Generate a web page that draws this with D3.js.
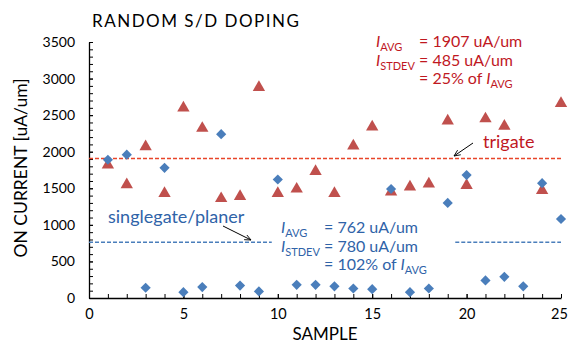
<!DOCTYPE html>
<html>
<head>
<meta charset="utf-8">
<script src="https://cdn.jsdelivr.net/npm/d3@7"></script>
<style>
  body { margin: 0; background: #fff; }
  svg text { font-family: Lato, "Noto Sans", sans-serif; }
</style>
</head>
<body>
<div id="vis-container"></div>
<script>
// sample index 1..25
let samples = d3.range(1, 26);

// trigate on-current (triangles), sample 23 has no visible point
let trigateSamples = [1, 2, 3, 4, 5, 6, 7, 8, 9, 10, 11, 12, 13, 14, 15, 16, 17, 18, 19, 20, 21, 22, 24, 25];
let trigateValues = [1820, 1550, 2070, 1430, 2600, 2320, 1360, 1390, 2880, 1430, 1490, 1730,
                     1430, 2080, 2340, 1450, 1520, 1560, 2420, 1540, 2450, 2350, 1470, 2660];

// singlegate / planer on-current (diamonds)
let planerValues = [1890, 1960, 140, 1780, 80, 150, 2240, 170, 90, 1620, 180, 180, 160,
                    130, 120, 1490, 80, 130, 1300, 1680, 240, 290, 160, 1570, 1080];

let trigateAvg = 1907;
let planerAvg = 762;

let xTicks = [0, 5, 10, 15, 20, 25];
let yTicks = [0, 500, 1000, 1500, 2000, 2500, 3000, 3500];

let width = 568;
let height = 345;
let margin = { left: 89, right: 7, top: 42, bottom: 47 };

let red = "#c0504d";
let redText = "#c0181f";
let redLine = "#e8452a";
let blue = "#4a7ebb";
let blueText = "#2f63a8";

let svg = d3.select("#vis-container")
  .append("svg")
  .attr("width", width)
  .attr("height", height);

let x = d3.scaleLinear()
  .domain([0, 25])
  .range([margin.left, width - margin.right]);

let y = d3.scaleLinear()
  .domain([0, 3500])
  .range([height - margin.bottom, margin.top]);

// minor ticks
svg.append("g")
  .attr("transform", `translate(${margin.left},0)`)
  .call(d3.axisLeft(y).tickValues(d3.range(0, 3501, 100)).tickSize(-4).tickFormat(""))
  .call(g => g.select(".domain").remove());

svg.append("g")
  .attr("transform", `translate(0,${height - margin.bottom})`)
  .call(d3.axisBottom(x).tickValues(d3.range(0, 26, 1)).tickSize(-4).tickFormat(""))
  .call(g => g.select(".domain").remove());

// major axes
let yAxis = svg.append("g")
  .attr("transform", `translate(${margin.left},0)`)
  .call(d3.axisLeft(y).tickValues(yTicks).tickFormat(d3.format("d")).tickSize(-4).tickPadding(14).tickSizeOuter(0));

let xAxis = svg.append("g")
  .attr("transform", `translate(0,${height - margin.bottom})`)
  .call(d3.axisBottom(x).tickValues(xTicks).tickFormat(d3.format("d")).tickSize(-4).tickPadding(11).tickSizeOuter(0));

svg.selectAll(".tick line").attr("stroke", "#000");
svg.selectAll(".domain").attr("stroke", "#000").attr("stroke-width", 1.3);
yAxis.selectAll("text").style("font-size", "14px").attr("fill", "#000");
xAxis.selectAll("text").style("font-size", "14.5px").attr("fill", "#000")
  .attr("dx", d => d === 25 ? -2 : 0);

// average lines
svg.append("line")
  .attr("x1", x(0)).attr("x2", x(25))
  .attr("y1", y(trigateAvg)).attr("y2", y(trigateAvg))
  .attr("stroke", redLine).attr("stroke-width", 1.5)
  .attr("stroke-dasharray", "4,2");

[[0, 9.68], [19.4, 25]].forEach(function (seg) {
  svg.append("line")
    .attr("x1", x(seg[0])).attr("x2", x(seg[1]))
    .attr("y1", y(planerAvg)).attr("y2", y(planerAvg))
    .attr("stroke", blue).attr("stroke-width", 1.3)
    .attr("stroke-dasharray", "4,2");
});

// points
svg.selectAll(".tri")
  .data(trigateValues)
  .enter()
  .append("path")
  .attr("class", "tri")
  .attr("d", d3.symbol().type(d3.symbolTriangle).size(66))
  .attr("transform", (d, i) => `translate(${x(trigateSamples[i])},${y(d)})`)
  .attr("fill", red);

svg.selectAll(".dia")
  .data(planerValues)
  .enter()
  .append("path")
  .attr("class", "dia")
  .attr("d", d3.symbol().type(d3.symbolSquare).size(52))
  .attr("transform", (d, i) => `translate(${x(samples[i])},${y(d)}) rotate(45)`)
  .attr("fill", blue);

// titles
svg.append("text")
  .attr("x", 92).attr("y", 27)
  .style("font-size", "17px")
  .style("letter-spacing", "1.5px")
  .text("RANDOM S/D DOPING");

svg.append("text")
  .attr("x", (margin.left + width - margin.right) / 2)
  .attr("y", 340)
  .attr("text-anchor", "middle")
  .style("font-size", "17px")
  .text("SAMPLE");

svg.append("text")
  .attr("transform", `translate(27,168) rotate(-90)`)
  .attr("text-anchor", "middle")
  .style("font-size", "17.5px")
  .text("ON CURRENT [uA/um]");

// stats blocks
function statBlock(x0, y0, color, avgText, sdText, pctText) {
  let g = svg.append("g").attr("fill", color).style("font-size", "16px");

  let t1 = g.append("text").attr("x", x0).attr("y", y0);
  t1.append("tspan").style("font-style", "italic").text("I");
  t1.append("tspan").attr("dy", 4).style("font-size", "11px").text("AVG");
  g.append("text").attr("x", x0 + 43).attr("y", y0).text(avgText);

  let t2 = g.append("text").attr("x", x0).attr("y", y0 + 18.5);
  t2.append("tspan").style("font-style", "italic").text("I");
  t2.append("tspan").attr("dy", 4).style("font-size", "11px").text("STDEV");
  g.append("text").attr("x", x0 + 43).attr("y", y0 + 18.5).text(sdText);

  let t3 = g.append("text").attr("x", x0 + 43).attr("y", y0 + 37);
  t3.append("tspan").text(pctText);
  t3.append("tspan").style("font-style", "italic").text("I");
  t3.append("tspan").attr("dy", 4).style("font-size", "11px").text("AVG");
}

statBlock(376, 47, redText, "= 1907 uA/um", "= 485 uA/um", "= 25% of ");
statBlock(281, 233, blueText, "= 762 uA/um", "= 780 uA/um", "= 102% of ");

// series labels with arrows
svg.append("defs").append("marker")
  .attr("id", "arrow")
  .attr("viewBox", "0 0 10 10")
  .attr("refX", 9).attr("refY", 5)
  .attr("markerWidth", 7).attr("markerHeight", 7)
  .attr("orient", "auto")
  .append("path")
  .attr("d", "M0,1 L9,5 L0,9")
  .attr("fill", "none")
  .attr("stroke", "#000")
  .attr("stroke-width", 1.2);

svg.append("text")
  .attr("x", 483).attr("y", 148)
  .attr("fill", redText)
  .style("font-size", "18px")
  .text("trigate");

svg.append("line")
  .attr("x1", 473).attr("y1", 143).attr("x2", 454).attr("y2", 156)
  .attr("stroke", "#000").attr("stroke-width", 1)
  .attr("marker-end", "url(#arrow)");

svg.append("text")
  .attr("x", 108).attr("y", 223)
  .attr("fill", blueText)
  .style("font-size", "18px")
  .text("singlegate/planer");

svg.append("line")
  .attr("x1", 223).attr("y1", 226).attr("x2", 251).attr("y2", 240)
  .attr("stroke", "#000").attr("stroke-width", 1)
  .attr("marker-end", "url(#arrow)");
</script>
</body>
</html>
